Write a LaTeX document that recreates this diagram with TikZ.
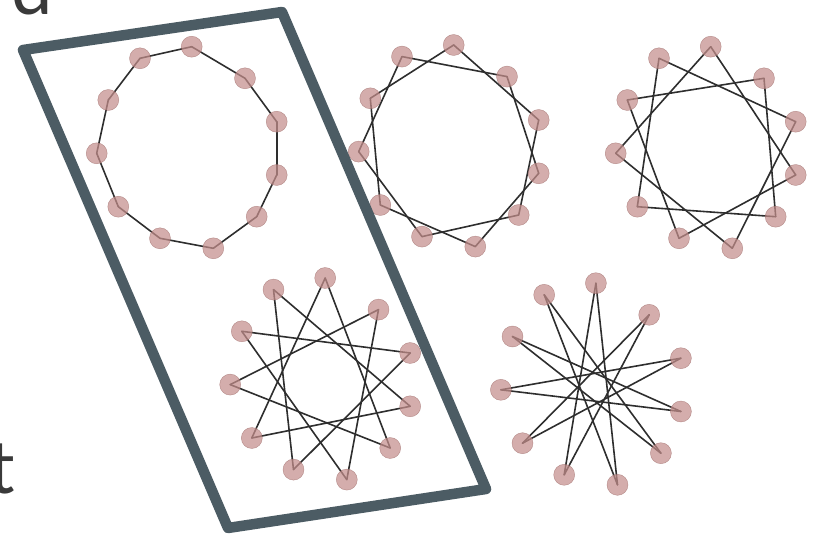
\documentclass[tikz,border=0pt]{standalone}
\usepackage{fontspec}
\setmainfont{Lato}
\usepackage{xcolor}
\usetikzlibrary{calc, backgrounds}

\definecolor{framegrey}{RGB}{76,92,100}
\definecolor{dotfill}{RGB}{196,142,140}
\definecolor{dotrim}{RGB}{160,110,108}
\definecolor{inkgrey}{RGB}{58,58,58}

\begin{document}
\begin{tikzpicture}[x=1pt, y=-1pt,
  vertex/.style={circle, fill=dotfill, fill opacity=0.72, draw=dotrim, draw opacity=0.7, minimum size=21pt, inner sep=0pt},
  chord/.style={draw=black!82, line width=1.6pt, line cap=round},
  bigletter/.style={anchor=base west, inner sep=0pt, text=inkgrey, font=\fontsize{74}{80}\selectfont}]
  \useasboundingbox (0,0) rectangle (815,535);
  \clip (0,0) rectangle (815,535);

  % cut-off letters of the slide text
  \node (letterd) [bigletter] at (11,15) {d};
  \node (lettert) [bigletter] at (-12,493) {t};

  % star polygons {11/k}, k = 1..5
  \foreach \k/\cx/\cy in {1/189/149, 2/451/147.3, 3/708/149, 4/322.5/380.3, 5/593.2/385.5} {
    \foreach \dx/\dy [count=\i from 0] in {2.7/-102.3, 56/-70.7, 87.7/-27.3, 87.7/26, 67.7/67.7, 24.3/99.3, -29/89.3, -70.7/57.7, -92.3/4.3, -80.7/-49, -49/-90.7}
      \node (v\k-\i) [vertex] at (\cx+\dx, \cy+\dy) {};
    \begin{scope}[on background layer]
      \foreach \i in {0,...,10} {
        \pgfmathtruncatemacro{\j}{mod(\i+\k,11)}
        \draw[chord] (v\k-\i.center) -- (v\k-\j.center);
      }
    \end{scope}
  }

  % frame round the first polygon
  \coordinate (ftl) at (23,50);
  \coordinate (ftr) at (282,12);
  \coordinate (fbr) at (486,489);
  \coordinate (fbl) at (228,528);
  \draw[framegrey, line width=10.5pt, line join=round] (ftl) -- (ftr) -- (fbr) -- (fbl) -- cycle;
\end{tikzpicture}
\end{document}
